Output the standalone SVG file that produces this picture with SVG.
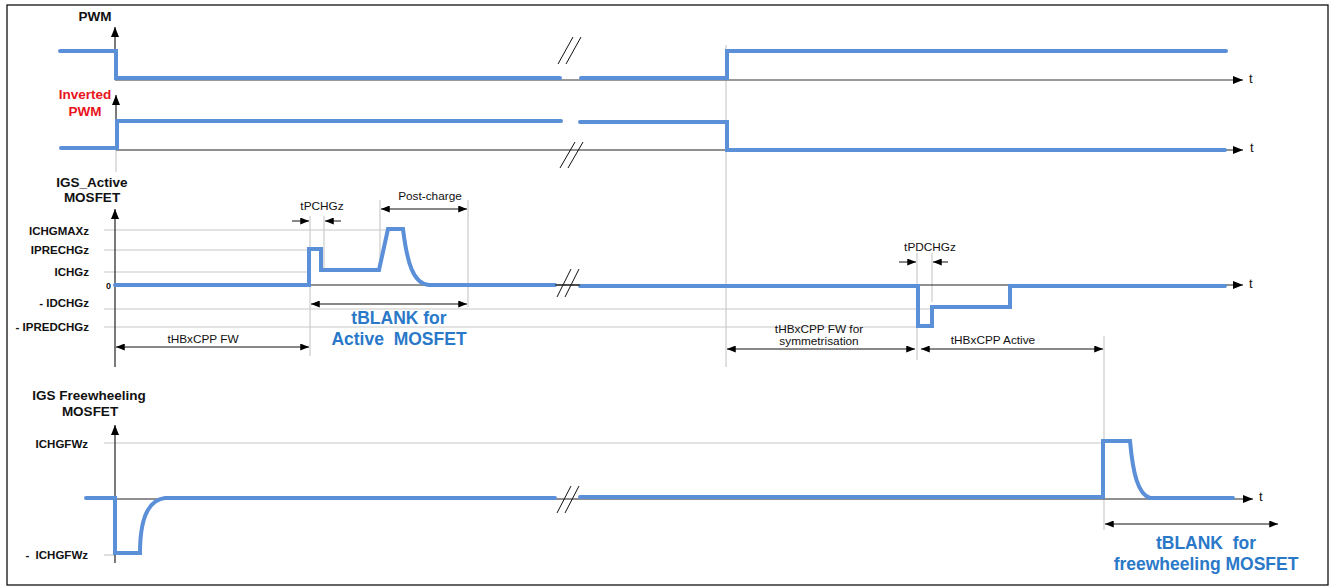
<svg xmlns="http://www.w3.org/2000/svg" width="1332" height="588" viewBox="0 0 1332 588">
<defs>
<marker id="ah" viewBox="0 0 10 8" refX="10" refY="4" markerWidth="10" markerHeight="8" markerUnits="userSpaceOnUse" orient="auto-start-reverse"><path d="M0,0 L10,4 L0,8 z" fill="#000"/></marker>
<marker id="ahs" viewBox="0 0 10 8" refX="10" refY="4" markerWidth="9" markerHeight="7" markerUnits="userSpaceOnUse" orient="auto-start-reverse"><path d="M0,0 L10,4 L0,8 z" fill="#000"/></marker>
</defs>
<style>
text{font-family:"Liberation Sans",Arial,sans-serif}
.lbl{font-size:13.5px;font-weight:bold;fill:#111}
.red{fill:#e8141c}
.lvl{font-size:11.5px;font-weight:bold;fill:#111;text-anchor:end}
.dim{font-size:11.8px;fill:#111;text-anchor:middle}
.blank{font-size:17.5px;font-weight:bold;fill:#2a78c8;text-anchor:middle}
.tt{font-size:13px;fill:#111}
.sig{fill:none;stroke:#5b8fd8;stroke-width:4;stroke-linecap:round;stroke-linejoin:miter}
.grid{stroke:#c8c8c8;stroke-width:1.2;fill:none}
.vg{stroke:#d6d6d6;stroke-width:1.5;fill:none}
.ax{stroke:#222;stroke-width:1.2;fill:none}
.axg{stroke:#777;stroke-width:1.5;fill:none}
.brk{stroke:#111;stroke-width:1;fill:none}
.darr{stroke:#111;stroke-width:1;fill:none;marker-start:url(#ahs);marker-end:url(#ahs)}
.sarr{stroke:#111;stroke-width:1;fill:none;marker-end:url(#ahs)}
</style>
<rect x="7" y="5" width="1321" height="580" fill="#fff" stroke="#111" stroke-width="1.3"/>

<!-- guide lines -->
<g id="guides">
<line class="vg" x1="116" y1="150" x2="116" y2="172"/>
<line class="vg" x1="726" y1="45" x2="726" y2="367"/>
<line class="vg" x1="310" y1="216" x2="310" y2="356"/>
<line class="vg" x1="324" y1="216" x2="324" y2="270"/>
<line class="vg" x1="380" y1="200" x2="380" y2="265"/>
<line class="vg" x1="468" y1="200" x2="468" y2="307"/>
<line class="vg" x1="917" y1="253" x2="917" y2="360"/>
<line class="vg" x1="932" y1="253" x2="932" y2="302"/>
<line class="vg" x1="1104" y1="336" x2="1104" y2="530"/>
<line class="grid" x1="104" y1="230" x2="388" y2="230"/>
<line class="grid" x1="104" y1="250" x2="310" y2="250"/>
<line class="grid" x1="104" y1="272" x2="310" y2="272"/>
<line class="grid" x1="104" y1="309" x2="932" y2="309"/>
<line class="grid" x1="104" y1="327" x2="916" y2="327"/>
<line class="grid" x1="104" y1="443" x2="1104" y2="443"/>
<line class="grid" x1="104" y1="555" x2="116" y2="555"/>
</g>

<!-- PWM -->
<g id="pwm">
<text class="lbl" x="95" y="21" text-anchor="middle">PWM</text>
<line class="ax" x1="115" y1="80" x2="115" y2="27" style="marker-end:url(#ah)"/>
<line class="axg" x1="115" y1="80" x2="1243" y2="80" style="marker-end:url(#ah)"/>
<text class="tt" x="1249" y="83">t</text>
<path class="sig" d="M60,51 H116 V78 H560"/>
<path class="sig" d="M581,78 H727 V51 H1226"/>
<line class="brk" x1="558" y1="64" x2="573" y2="37"/>
<line class="brk" x1="566" y1="64" x2="581" y2="37"/>
</g>

<!-- Inverted PWM -->
<g id="inv-pwm">
<text class="lbl red" x="85" y="99" text-anchor="middle">Inverted</text>
<text class="lbl red" x="85" y="116" text-anchor="middle">PWM</text>
<line class="ax" x1="116" y1="150" x2="116" y2="95" style="marker-end:url(#ah)"/>
<line class="ax" x1="116" y1="150" x2="1243" y2="150" style="marker-end:url(#ah)"/>
<text class="tt" x="1250" y="152">t</text>
<path class="sig" d="M61,148 H117 V121 H561"/>
<path class="sig" d="M580,122 H727 V150 H1225"/>
<line class="brk" x1="560" y1="168" x2="575" y2="142"/>
<line class="brk" x1="568" y1="168" x2="583" y2="142"/>
</g>

<!-- IGS Active MOSFET -->
<g id="igs-active">
<text class="lbl" x="92" y="187" text-anchor="middle">IGS_Active</text>
<text class="lbl" x="92" y="202" text-anchor="middle">MOSFET</text>
<line class="ax" x1="115" y1="367" x2="115" y2="209" style="marker-end:url(#ah)"/>
<line class="ax" x1="115" y1="285" x2="1243" y2="285" style="marker-end:url(#ah)"/>
<text class="tt" x="1249" y="288">t</text>
<text class="lvl" x="89" y="235">ICHGMAXz</text>
<text class="lvl" x="89" y="254">IPRECHGz</text>
<text class="lvl" x="89" y="276">ICHGz</text>
<text class="lvl" x="111" y="289" style="font-size:9px">0</text>
<text class="lvl" x="89" y="307">- IDCHGz</text>
<text class="lvl" x="89" y="331">- IPREDCHGz</text>
<path class="sig" d="M115,285 H309 V249 H321 V270 H379 L388,229 H403 C407,262 413,284 429,285 H555"/>
<path class="sig" d="M580,286 H918 V326 H932 V307 H1010 V286 H1225"/>
<line class="ax" x1="555" y1="285" x2="580" y2="285"/>
<line class="brk" x1="557" y1="297" x2="571" y2="269"/>
<line class="brk" x1="565" y1="297" x2="579" y2="269"/>
</g>

<!-- IGS Freewheeling MOSFET -->
<g id="igs-fw">
<text class="lbl" x="89" y="400" text-anchor="middle">IGS Freewheeling</text>
<text class="lbl" x="90" y="416" text-anchor="middle">MOSFET</text>
<line class="ax" x1="115" y1="563" x2="115" y2="425" style="marker-end:url(#ah)"/>
<line class="ax" x1="115" y1="499" x2="1253" y2="499" style="marker-end:url(#ah)"/>
<text class="tt" x="1259" y="501">t</text>
<text class="lvl" x="88" y="448">ICHGFWz</text>
<text class="lvl" x="88" y="559" xml:space="preserve">-  ICHGFWz</text>
<path class="sig" d="M86,498 H115 V553 H140 C140,520 148,500 165,498 H555"/>
<path class="sig" d="M580,497 H1103 V441 H1130 C1133,474 1138,494 1150,498 H1233"/>
<line class="brk" x1="557" y1="513" x2="571" y2="486"/>
<line class="brk" x1="565" y1="513" x2="579" y2="486"/>
</g>

<!-- dimension annotations -->
<g id="connectors">
<text class="dim" x="322" y="210">tPCHGz</text>
<line class="sarr" x1="292" y1="221" x2="309" y2="221"/>
<line class="sarr" x1="341" y1="221" x2="325" y2="221"/>
<text class="dim" x="430" y="200">Post-charge</text>
<line class="darr" x1="381" y1="209" x2="467" y2="209"/>
<line class="darr" x1="311" y1="304" x2="467" y2="304"/>
<text class="blank" x="399" y="324">tBLANK for</text>
<text class="blank" x="399" y="345" xml:space="preserve">Active  MOSFET</text>
<line class="darr" x1="116" y1="347" x2="309" y2="347"/>
<text class="dim" x="203" y="343">tHBxCPP FW</text>
<text class="dim" x="930" y="251">tPDCHGz</text>
<line class="sarr" x1="899" y1="262" x2="916" y2="262"/>
<line class="sarr" x1="948" y1="262" x2="933" y2="262"/>
<line class="darr" x1="727" y1="349" x2="915" y2="349"/>
<text class="dim" x="819" y="333">tHBxCPP FW for</text>
<text class="dim" x="819" y="345">symmetrisation</text>
<line class="darr" x1="921" y1="349" x2="1103" y2="349"/>
<text class="dim" x="993" y="344">tHBxCPP Active</text>
<line class="darr" x1="1105" y1="524" x2="1278" y2="524"/>
<text class="blank" x="1206" y="549" xml:space="preserve">tBLANK  for</text>
<text class="blank" x="1206" y="570">freewheeling MOSFET</text>
</g>
</svg>
